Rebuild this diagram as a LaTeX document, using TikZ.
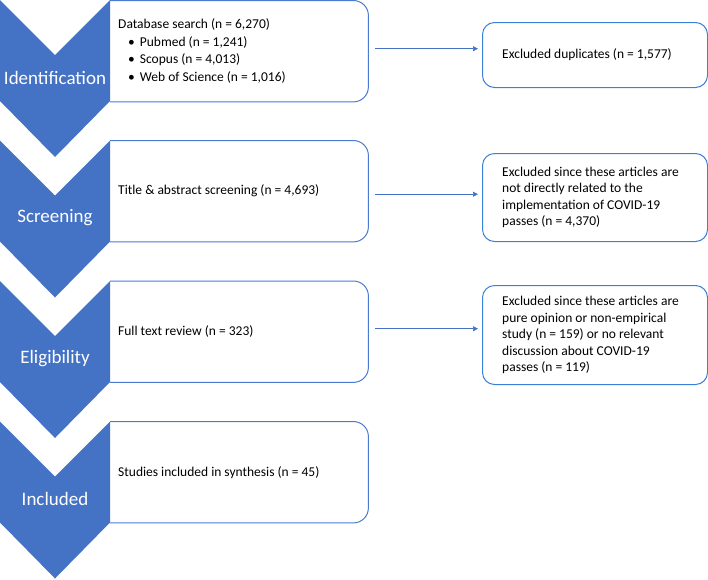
\documentclass[tikz,border=0pt]{standalone}
\usepackage{fontspec}
\setmainfont{Carlito}
\usetikzlibrary{arrows.meta,calc}
\definecolor{chev}{HTML}{4472C4}
\definecolor{mainline}{HTML}{4A7BD0}
\definecolor{sideline}{HTML}{3A80D6}
\tikzset{
  frame/.style={draw=none,rectangle,inner sep=0pt,anchor=north west},
  mainborder/.style={draw=mainline,line width=1pt,rounded corners=15pt},
  sidebox/.style={draw=sideline,line width=1pt,rounded corners=12pt,rectangle,
    inner sep=0pt,anchor=north west,minimum width=225pt},
  sidetext/.style={anchor=west,align=left,font=\fontsize{13.5}{16.4}\selectfont,inner sep=0pt},
  maintext/.style={anchor=west,align=left,font=\fontsize{13.5}{17.5}\selectfont,inner sep=0pt},
  chevlabel/.style={text=white,font=\fontsize{19}{22}\selectfont,inner sep=0pt},
  chevshape/.style={fill=chev,draw=none},
  arr/.style={draw=chev,line width=0.7pt,-{Triangle[length=5pt,width=5pt]}}
}
\newcommand{\chevron}[1]{%
  \path[chevshape] (0,#1) -- (55,#1+55) -- (110,#1) -- (110,#1+101) -- (55,#1+157) -- (0,#1+101) -- cycle;}
\begin{document}
\begin{tikzpicture}[x=1pt,y=-1pt]
\useasboundingbox (0,0) rectangle (708,579);
% main boxes
\foreach \t/\n in {0.5/m1,140.5/m2,281/m3,421.5/m4}{
  \node[frame,minimum width=258pt,minimum height=101pt] (\n) at (110,\t) {};
  \draw[mainborder] (\n.north west) -- (\n.north east) -- (\n.south east) -- (\n.south west);
}
% chevrons
\chevron{0}
\chevron{140.5}
\chevron{281}
\chevron{421.5}
\node[chevlabel] (c1) at (55,78) {Identification};
\node[chevlabel] (c2) at (55,218) {Screening};
\node[chevlabel] (c3) at (55,359) {Eligibility};
\node[chevlabel] (c4) at (55,499) {Included};
% main texts
\node[maintext] (t1) at ([xshift=8pt]m1.west) {Database search (n = 6,270)\\
\hspace*{10pt}•\hspace{5pt}Pubmed (n = 1,241)\\
\hspace*{10pt}•\hspace{5pt}Scopus (n = 4,013)\\
\hspace*{10pt}•\hspace{5pt}Web of Science (n = 1,016)};
\node[maintext] (t2) at ([xshift=8pt]m2.west) {Title \& abstract screening (n = 4,693)};
\node[maintext] (t3) at ([xshift=8pt]m3.west) {Full text review (n = 323)};
\node[maintext] (t4) at ([xshift=8pt]m4.west) {Studies included in synthesis (n = 45)};
% side boxes
\node[sidebox,minimum height=65pt] (e1) at (482,22) {};
\node[sidebox,minimum height=88pt] (e2) at (482,153) {};
\node[sidebox,minimum height=99pt] (e3) at (482,285) {};
\node[sidetext] (s1) at ([xshift=20pt]e1.west) {Excluded duplicates (n = 1,577)};
\node[sidetext] (s2) at ([xshift=20pt]e2.west) {Excluded since these articles are\\not directly related to the\\implementation of COVID-19\\passes (n = 4,370)};
\node[sidetext] (s3) at ([xshift=20pt]e3.west) {Excluded since these articles are\\pure opinion or non-empirical\\study (n = 159) or no relevant\\discussion about COVID-19\\passes (n = 119)};
% arrows
\draw[arr] ([xshift=7pt,yshift=2.5pt]m1.east) -- ([xshift=-4pt,yshift=2.5pt]m1.east -| e1.west);
\draw[arr] ([xshift=7pt,yshift=-3pt]m2.east) -- ([xshift=-4pt,yshift=-3pt]m2.east -| e2.west);
\draw[arr] ([xshift=7pt,yshift=3pt]m3.east) -- ([xshift=-4pt,yshift=3pt]m3.east -| e3.west);
\end{tikzpicture}
\end{document}
